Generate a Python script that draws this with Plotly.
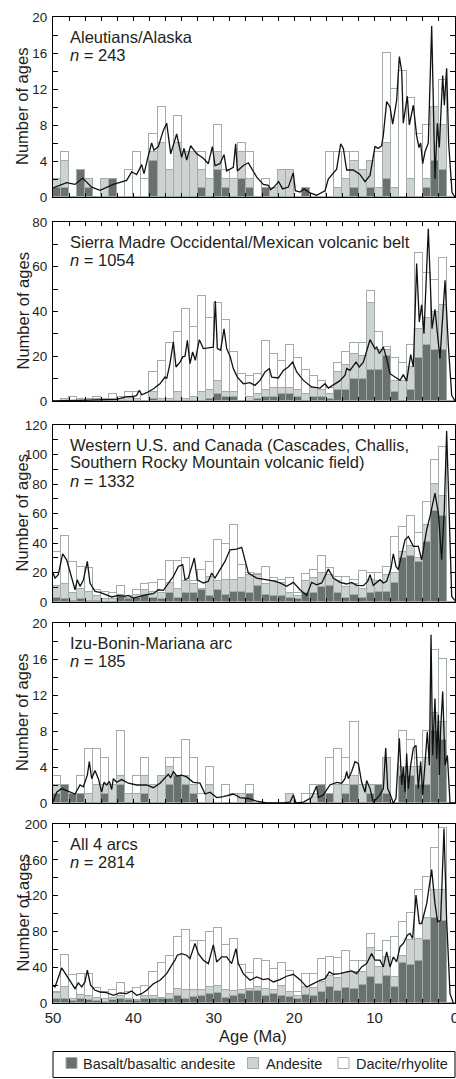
import plotly.graph_objects as go

# ---------------- data ----------------
bin_centers = [49.5 - i for i in range(50)]  # 1-Myr bins, 50 Ma -> 0 Ma

# Panel 1: Aleutians/Alaska
p1_basalt = [1,1,0,3,1,0,0,2,0,0, 0,0,4,0,0,0,0,0,1,0, 3,1,0,2,1,0,1,0,0,0, 0,1,0,0,0,0,0,1,0,1, 0,2,0,0,0,0,1,4,3,0]
p1_andesite = [1,3,0,0,1,0,2,0,0,0, 0,0,1,6,3,6,5,5,2,2, 2,1,2,3,1,0,0,1,3,3, 0,0,0,0,0,1,2,3,3,3, 1,4,1,0,2,0,1,6,5,0]
p1_dacite = [0,1,0,0,0,0,0,0,0,3, 5,2,2,4,0,3,0,0,2,0, 3,1,0,1,3,0,1,0,0,0, 0,0,0,0,5,4,3,1,0,0, 4,10,11,14,9,7,6,0,5,0]
p1_curve_age = [50,48.3,47.26,46.31,45.19,44.15,42.5,40.84,40.22,39.6,38.97,38.68,38.14,37.73,37.44,36.9,36.28,35.86,35.36,34.62,34.0,33.71,33.37,32.88,32.13,31.3,30.68,30.18,29.85,29.23,28.73,28.4,27.57,27.28,27.07,26.33,25.7,24.66,23.84,23.22,22.93,22.52,21.94,21.44,20.73,20.11,19.86,19.28,18.78,18.04,17.21,16.17,15.76,15.13,14.72,14.22,13.89,13.47,12.65,11.82,11.19,10.57,9.95,9.54,9.12,8.91,8.5,8.08,7.75,7.26,6.92,6.63,6.43,5.93,5.68,5.18,4.77,4.48,4.27,4.02,3.73,3.32,2.9,2.49,2.2,1.95,1.53,1.33,1.04,0.79,0.37,0.0]
p1_curve_val = [1.0,1.6,1.4,2.1,1.1,0.75,1.4,1.85,2.8,2.5,3.6,2.6,4.6,6.0,5.2,5.6,7.4,8.2,4.8,7.0,4.4,5.4,4.1,5.7,4.8,4.3,3.7,5.6,3.5,3.7,4.7,2.9,3.3,5.9,2.9,3.5,3.8,2.2,1.4,1.3,0.8,1.1,1.7,0.9,1.1,2.7,0.7,0.55,0.9,0.45,0.2,0.7,2.0,2.6,3.1,5.9,5.4,3.0,3.0,2.5,1.7,2.4,5.6,5.4,5.7,6.9,10.6,10.0,8.1,10.7,15.6,14.0,8.2,11.2,8.0,10.2,6.8,5.5,6.0,3.7,5.0,6.0,19.0,2.0,8.2,5.5,13.5,10.2,14.3,6.0,0.5,0.0]

# Panel 2: Sierra Madre Occidental/Mexican volcanic belt
p2_basalt = [0,0,0,0,0,0,0,0,0,0, 0,0,1,0,0,0,0,0,0,1, 3,2,2,0,0,1,2,2,3,3, 2,0,2,2,1,5,5,10,10,14, 14,20,4,0,5,19,25,23,23,0]
p2_andesite = [0,1,0,0,0,1,0,1,1,2, 1,0,3,1,1,4,1,2,4,4, 6,2,2,0,2,2,3,4,3,3, 3,3,4,3,2,8,11,11,10,30, 9,3,5,9,10,13,12,17,20,0]
p2_dacite = [0,0,2,1,1,1,1,2,1,2, 3,0,9,17,25,27,40,31,43,32, 35,32,18,12,9,9,22,15,12,19, 14,11,5,4,3,4,6,5,6,5, 8,1,10,8,10,34,20,14,21,0]
p2_curve_age = [50,46.2,42.1,41.0,40.0,39.6,39.26,38.97,38.35,37.5,36.7,36.07,35.86,35.45,35.03,34.7,34.2,33.87,33.58,33.29,32.96,32.63,32.3,31.8,31.3,30.68,30.06,29.81,29.56,29.15,28.73,28.4,27.99,27.57,27.07,26.33,25.5,24.88,24.25,23.63,23.09,22.8,21.97,21.35,20.73,20.19,19.69,18.86,17.83,16.79,16.17,15.75,15.13,14.3,13.68,13.47,13.06,12.31,11.9,11.4,10.57,9.95,9.74,9.41,8.91,8.5,8.08,7.46,6.84,6.43,6.01,5.51,5.18,4.77,4.44,4.15,3.86,3.32,2.86,2.49,1.87,1.24,0.83,0.41,0.0]
p2_curve_val = [0,0.3,0.7,1.8,2.0,2.5,4.8,2.8,3.7,5.5,7.7,10.7,10.0,16.7,26.4,15.2,17.4,19.7,20.0,27.1,16.7,21.9,18.2,27.4,23.4,23.7,24.1,44.7,23.4,22.7,32.3,23.4,20.1,14.5,10.7,7.7,8.2,7.0,9.2,13.0,14.5,10.7,10.3,13.7,15.2,17.4,13.0,9.2,6.3,5.8,7.7,5.8,7.3,9.1,11.5,14.5,13.7,17.4,15.2,17.4,27.4,23.4,24.1,21.2,24.1,18.9,12.2,10.7,9.2,11.8,8.9,20.7,15.2,61.4,35.3,43.0,30.1,77.0,32.3,41.0,18.9,54.0,24.9,2.5,0.0]

# Panel 3: Western U.S. and Canada
p3_basalt = [3,2,1,2,1,1,0,0,4,2, 3,5,3,2,6,3,6,6,8,4, 8,5,7,7,6,11,5,4,4,3, 2,6,6,10,11,6,3,5,3,6, 7,7,13,30,31,27,41,62,58,0]
p3_andesite = [8,10,5,7,6,3,2,2,1,1, 2,3,4,4,7,6,8,6,1,13, 6,10,8,9,12,7,7,10,9,3, 2,8,10,10,7,8,7,7,6,9, 7,11,7,4,7,3,11,18,14,0]
p3_dacite = [23,33,21,15,16,4,5,4,6,1, 3,4,6,9,15,19,16,2,13,10, 28,24,37,9,2,1,12,2,2,10, 2,5,6,11,5,3,7,3,12,5, 6,6,24,17,20,17,16,16,33,0]
p3_curve_age = [50,49.75,49.34,48.8,48.3,47.68,47.26,46.97,46.64,46.23,45.73,45.4,44.78,44.15,43.53,42.7,41.87,41.04,40.63,40.0,39.18,38.35,37.52,36.9,36.28,35.66,35.03,34.41,33.87,33.58,33.17,32.42,32.05,31.3,30.68,30.27,29.85,29.23,28.61,27.99,27.16,26.53,26.12,25.7,24.67,23.42,22.6,21.77,20.94,20.11,19.28,18.45,17.83,17.21,16.58,15.75,15.13,14.3,13.47,12.85,12.23,11.4,10.86,10.57,10.16,9.33,8.91,8.5,7.96,7.67,7.34,7.05,6.22,5.8,5.18,4.56,4.15,3.52,3.11,2.49,2.07,1.66,1.33,1.04,0.71,0.41,0.0]
p3_curve_val = [19.6,16.2,18.5,32.7,28.6,16.2,8.3,15.1,10.6,14.7,27.5,12.9,7.2,6.5,5.0,3.4,4.5,3.8,4.5,2.7,3.8,5.0,5.6,8.3,7.9,12.9,17.4,24.1,25.3,15.1,16.2,29.8,15.1,12.9,14.0,19.6,16.2,21.9,27.5,35.4,35.9,37.0,28.6,19.6,16.2,15.1,14.4,12.9,10.6,13.3,8.3,4.5,13.3,11.7,12.9,22.3,16.2,13.3,12.2,13.3,11.3,11.1,14.0,18.5,11.3,15.1,12.9,14.0,23.0,32.7,24.1,21.9,42.2,44.4,37.7,37.7,28.6,49.0,58.0,73.8,60.2,28.6,62.5,116.0,51.0,3.8,1.0]

# Panel 4: Izu-Bonin-Mariana arc
p4_basalt = [1,2,1,1,0,0,1,0,2,0, 0,1,0,0,2,3,2,1,0,0, 0,0,0,0,1,0,0,0,0,0, 0,0,0,2,1,0,1,2,0,1, 2,1,0,3,3,2,2,8,7,0]
p4_andesite = [1,0,0,0,1,2,1,2,1,1, 1,2,2,3,2,0,1,1,0,2, 0,0,0,1,0,0,0,0,0,1, 0,0,1,0,0,2,1,1,2,1, 0,4,0,1,1,2,3,2,2,0]
p4_dacite = [1,0,0,2,5,4,3,0,5,0, 2,2,0,0,1,2,4,3,1,2, 0,2,1,0,1,0,0,0,0,0, 0,1,1,0,4,4,3,6,0,0, 0,0,0,4,3,1,3,7,7,0]
p4_curve_age = [50,49.54,48.92,48.3,47.68,47.26,46.64,46.23,45.73,45.48,45.19,44.78,44.36,43.95,43.66,43.32,42.99,42.7,42.5,42.08,41.46,40.63,39.59,38.35,37.52,36.69,35.66,35.36,35.03,34.62,34.0,33.37,32.55,31.72,31.09,30.47,29.64,28.81,27.57,26.74,25.7,24.67,23.42,21.35,20.52,20.11,19.78,18.86,17.83,17.21,17.0,16.38,15.55,14.72,14.1,13.68,13.47,13.27,12.85,12.44,12.02,11.61,11.19,10.99,10.57,10.16,9.33,8.91,8.62,8.37,8.08,7.67,7.34,6.92,6.63,6.43,6.22,6.01,5.8,5.51,5.18,4.85,4.56,4.27,4.02,3.73,3.44,3.19,2.98,2.78,2.49,2.28,2.07,1.95,1.78,1.53,1.24,0.95,0.62,0.0]
p4_curve_val = [0.1,1.2,1.6,1.4,1.2,1.0,2.0,1.8,3.1,4.6,2.7,3.6,2.7,1.2,2.3,2.0,2.4,1.5,2.7,2.3,2.6,2.2,2.0,2.0,1.7,2.2,3.2,2.8,3.5,3.0,3.1,2.9,2.3,2.2,1.0,1.2,0.6,0.7,1.0,0.6,0.5,0.2,0.0,0.0,0.1,0.9,0.0,0.1,0.6,1.9,0.6,0.9,2.0,2.3,2.2,2.7,3.5,2.7,3.5,4.6,4.4,2.3,1.2,2.5,1.6,0.1,0.9,1.6,6.1,1.6,1.0,0.0,0.5,7.2,2.0,4.0,1.2,5.5,1.6,4.2,6.1,6.4,1.6,4.6,0.9,4.4,7.9,4.2,18.7,5.3,11.6,4.9,9.8,3.1,8.3,12.4,4.2,5.3,0.0,0.0]

# Panel 5: All 4 arcs
p5_basalt = [4,4,2,4,3,2,1,3,5,3, 2,5,5,4,4,8,5,7,8,10, 11,6,8,10,13,13,8,10,8,7, 4,9,8,12,18,13,17,16,20,29, 21,30,18,45,43,47,70,95,92,0]
p5_andesite = [7,14,2,5,5,4,3,3,3,2, 1,3,3,2,6,8,10,7,6,8, 8,9,5,4,3,5,8,4,11,5, 4,9,9,12,12,15,17,19,15,33, 19,21,11,7,27,25,25,31,34,0]
p5_dacite = [1,36,27,23,24,11,8,8,14,7, 14,11,27,39,43,58,67,55,55,61, 65,50,59,29,17,31,31,24,26,24, 4,14,15,25,21,22,24,12,12,15, 18,18,45,39,31,54,46,47,70,0]
p5_curve_age = [50,49.75,48.92,48.3,47.68,47.26,46.85,46.43,46.02,45.73,45.32,44.78,44.15,43.32,42.5,41.67,40.84,40.22,39.59,38.97,38.35,37.52,36.69,35.86,35.12,34.83,34.54,34.0,33.37,32.96,32.34,31.92,31.3,30.68,30.06,29.64,29.02,28.4,27.78,27.24,26.95,26.33,25.5,24.67,23.84,23.22,22.6,21.77,20.94,20.11,19.28,18.45,17.62,16.79,16.17,15.63,15.13,14.3,13.47,12.85,12.23,11.61,10.99,10.37,9.95,9.33,8.91,8.5,8.08,7.67,7.26,6.84,6.43,5.93,5.6,5.27,4.85,4.44,4.15,3.52,2.9,2.49,2.16,1.78,1.37,1.04,0.62,0.21]
p5_curve_val = [19.8,17.9,39.2,31.0,21.6,16.0,22.4,17.9,23.5,36.6,19.8,14.2,12.3,11.6,8.6,11.2,10.4,13.4,8.6,10.4,14.2,21.6,25.4,32.8,44.0,47.8,53.4,55.2,53.4,49.6,66.4,55.2,47.8,44.0,65.0,45.9,51.5,51.5,44.0,60.8,44.0,32.8,25.4,29.1,26.1,27.2,23.5,26.1,29.9,32.1,26.1,17.9,21.6,25.4,27.2,34.7,32.1,32.8,34.7,35.8,32.8,40.3,44.0,55.2,47.8,47.8,40.3,57.1,40.3,51.5,45.9,62.7,66.4,75.7,77.6,72.0,120.5,88.8,88.8,111.0,149.0,111.0,90.7,92.5,195.0,92.5,10.4,0.0]

panel_titles = [
    ["Aleutians/Alaska", "<i>n</i> = 243"],
    ["Sierra Madre Occidental/Mexican volcanic belt", "<i>n</i> = 1054"],
    ["Western U.S. and Canada (Cascades, Challis,", "Southern Rocky Mountain volcanic field)", "<i>n</i> = 1332"],
    ["Izu-Bonin-Mariana arc", "<i>n</i> = 185"],
    ["All 4 arcs", "<i>n</i> = 2814"],
]
y_max = [20, 80, 120, 20, 200]
y_major = [4, 20, 20, 4, 40]
y_minor = [2, 10, 10, 2, 20]
x_ticks = [50, 40, 30, 20, 10, 0]
series_names = ["Basalt/basaltic andesite", "Andesite", "Dacite/rhyolite"]

panels = [
    (p1_basalt, p1_andesite, p1_dacite, p1_curve_age, p1_curve_val),
    (p2_basalt, p2_andesite, p2_dacite, p2_curve_age, p2_curve_val),
    (p3_basalt, p3_andesite, p3_dacite, p3_curve_age, p3_curve_val),
    (p4_basalt, p4_andesite, p4_dacite, p4_curve_age, p4_curve_val),
    (p5_basalt, p5_andesite, p5_dacite, p5_curve_age, p5_curve_val),
]

# ---------------- style ----------------
W, H = 456, 1079
FONT = "Liberation Sans, Arial, Helvetica, sans-serif"
TXT = "#231f20"
fills = ["#687170", "#cdd3d3", "#ffffff"]
OUTLINE = "#a3abab"
plot_left, plot_right = 53, 455
panel_px = [(17, 197), (222, 401), (425, 602), (623, 803), (824, 1003)]
legend_swatch_px = [(66, 77), (247.5, 258.5), (338, 349)]
legend_text_px = [82, 265, 355]
legend_mid_px = 1063


def py(px):
    return 1 - px / H


def pxx(px):
    return (px - plot_left) / (plot_right - plot_left)


fig = go.Figure()
layout = dict(
    width=W, height=H,
    margin=dict(l=plot_left, r=W - plot_right, t=0, b=0, autoexpand=False),
    paper_bgcolor="white", plot_bgcolor="white",
    barmode="stack", bargap=0,
    font=dict(family=FONT, color=TXT, size=14),
    showlegend=False,
)

annotations = []
shapes = []
for i, (bas, ande, dac, cage, cval) in enumerate(panels):
    k = "" if i == 0 else str(i + 1)
    xa, ya = "x" + k, "y" + k
    for j, (vals, name) in enumerate(zip([bas, ande, dac], series_names)):
        fig.add_trace(go.Bar(
            x=bin_centers, y=vals, width=1, name=name, xaxis=xa, yaxis=ya,
            marker=dict(color=fills[j], line=dict(color=OUTLINE, width=1)),
            legendgroup=name, showlegend=False, hoverinfo="skip",
        ))
    fig.add_trace(go.Scatter(
        x=cage, y=cval, mode="lines", xaxis=xa, yaxis=ya,
        line=dict(color="#111111", width=1.3), showlegend=False, hoverinfo="skip",
    ))
    top, bot = panel_px[i]
    layout["xaxis" + k] = dict(
        domain=[0, 1], range=[50, 0], anchor=ya, tickvals=x_ticks,
        showticklabels=(i == 4), ticks="inside", ticklen=4, tickwidth=1, tickcolor="black",
        minor=dict(dtick=2, tick0=0, ticks="inside", ticklen=4, tickcolor="black", showgrid=False),
        showline=True, linecolor="black", linewidth=1, mirror="allticks",
        showgrid=False, zeroline=False, automargin=False, ticklabeloverflow="allow",
        tickfont=dict(size=15, family=FONT, color=TXT), ticklabelstandoff=1,
    )
    layout["yaxis" + k] = dict(
        domain=[py(bot), py(top)], range=[0, y_max[i]], anchor=xa,
        dtick=y_major[i], tick0=0, ticks="inside", ticklen=5, tickwidth=1, tickcolor="black",
        minor=dict(dtick=y_minor[i], tick0=0, ticks="inside", ticklen=5, tickcolor="black", showgrid=False),
        showline=True, linecolor="black", linewidth=1, mirror="allticks",
        showgrid=False, zeroline=False, automargin=False, ticklabeloverflow="allow",
        tickfont=dict(size=13.5, family=FONT, color=TXT), ticklabelstandoff=2,
    )
    for li, line in enumerate(panel_titles[i]):
        annotations.append(dict(
            xref="paper", yref="paper", x=pxx(68), y=py(top + 19.5 + 18 * li),
            xanchor="left", yanchor="middle", text=line, showarrow=False,
            font=dict(size=16.5, family=FONT, color=TXT),
        ))
    annotations.append(dict(
        xref="paper", yref="paper", x=pxx(22), y=py((top + bot) / 2),
        xanchor="center", yanchor="middle", text="Number of ages", textangle=-90,
        showarrow=False, font=dict(size=16.5, family=FONT, color=TXT),
    ))

annotations.append(dict(
    xref="paper", yref="paper", x=pxx(252.5), y=py(1036),
    xanchor="center", yanchor="middle", text="Age (Ma)", showarrow=False,
    font=dict(size=16.5, family=FONT, color=TXT),
))

shapes.append(dict(type="rect", xref="paper", yref="paper",
                   x0=0, x1=1, y0=py(1077.5), y1=py(1051.5),
                   line=dict(color="black", width=1), fillcolor="rgba(0,0,0,0)"))
for j, name in enumerate(series_names):
    sx0, sx1 = legend_swatch_px[j]
    shapes.append(dict(type="rect", xref="paper", yref="paper",
                       x0=pxx(sx0), x1=pxx(sx1), y0=py(legend_mid_px + 5.5), y1=py(legend_mid_px - 5.5),
                       line=dict(color=OUTLINE, width=1), fillcolor=fills[j]))
    annotations.append(dict(
        xref="paper", yref="paper", x=pxx(legend_text_px[j]), y=py(legend_mid_px + 0.5),
        xanchor="left", yanchor="middle", text=name, showarrow=False,
        font=dict(size=14.5, family=FONT, color=TXT), borderpad=0,
    ))

layout["annotations"] = annotations
layout["shapes"] = shapes
fig.update_layout(**layout)
fig.write_html(
    "out.html",
    config={"displayModeBar": False},
    post_script="document.body.style.margin='0';document.body.style.padding='0';"
                "document.documentElement.style.overflow='hidden';",
)
